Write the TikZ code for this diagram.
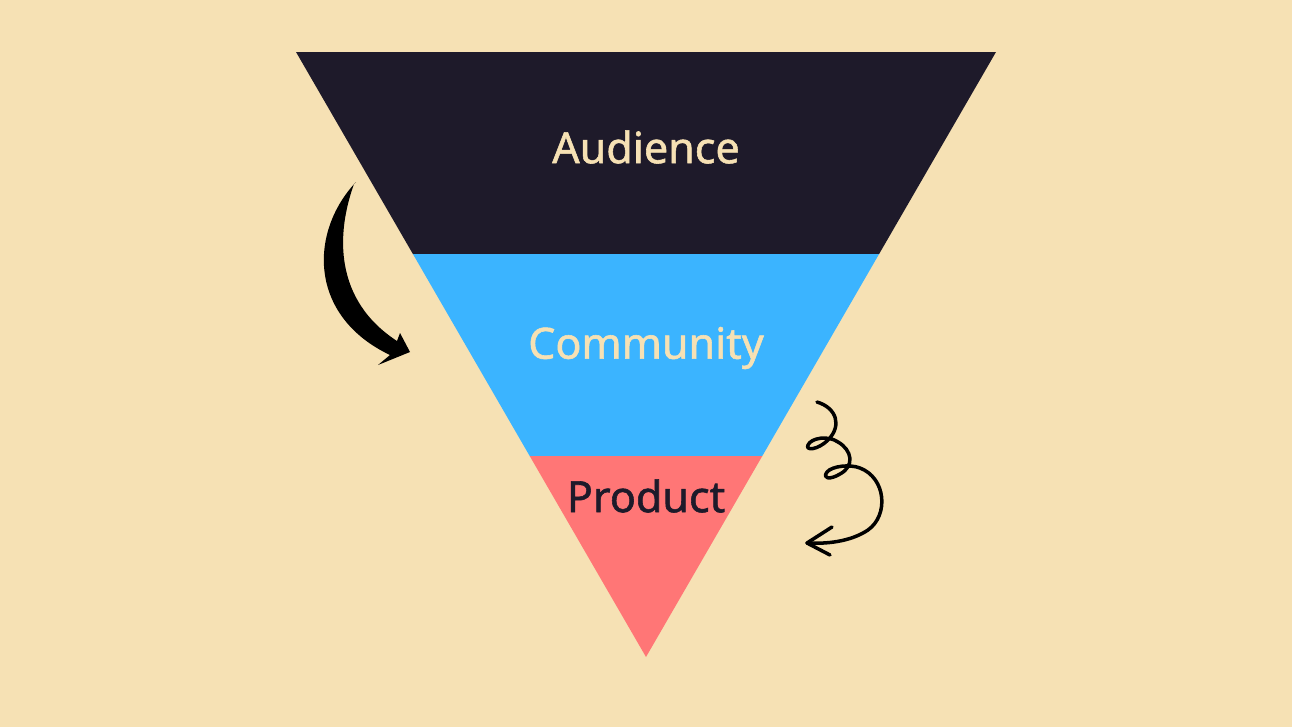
\documentclass[tikz,border=0pt]{standalone}
\usepackage{fontspec}
\setmainfont{Noto Sans}[FakeBold=1.3]
\definecolor{sand}{HTML}{F6E1B4}
\definecolor{ink}{HTML}{1E1A2A}
\definecolor{sky}{HTML}{3BB4FF}
\definecolor{coral}{HTML}{FF7676}
\tikzset{
	label text/.style={font=\fontsize{24.5}{29}\selectfont},
}
\begin{document}
\begin{tikzpicture}[x=0.02cm, y=-0.02cm]
		%%%%% START %%%%%
		
		\useasboundingbox (0, 0) rectangle (1292, 727);
		\fill[sand] (0, 0) rectangle (1292, 727);
		
		% funnel bands
		\fill[ink] (296, 52) -- (996, 52) -- (879.1, 254) -- (412.9, 254) -- cycle;
		\fill[sky] (412.9, 254) -- (879.1, 254) -- (762.3, 456) -- (529.7, 456) -- cycle;
		\fill[coral] (529.7, 456) -- (762.3, 456) -- (646, 657) -- cycle;
		
		\node[label text, text=sand] (audience) at (646, 147) {Audience};
		\node[label text, text=sand] (community) at (646, 348) {Community};
		\node[label text, text=ink] (product) at (646, 496) {Product};
		
		% thick arrow on the left
		\fill[black, line join=round] (356, 182) .. controls (309, 232) and (308, 316) .. (390, 355)
			-- (378, 365) -- (410, 352) -- (400, 333) -- (397, 341)
			.. controls (334, 300) and (336, 234) .. (354, 184) -- cycle;
		
		% curly arrow on the right
		\draw[line width=0.7mm, line cap=round, line join=round] (817, 402)
			.. controls (837, 408) and (842, 426) .. (828, 440)
			.. controls (818, 450) and (805, 451) .. (808, 445)
			.. controls (811, 438) and (828, 435) .. (838, 442)
			.. controls (852, 450) and (855, 466) .. (840, 474)
			.. controls (830, 480) and (822, 479) .. (827, 472)
			.. controls (832, 466) and (850, 464) .. (860, 468)
			.. controls (886, 478) and (889, 515) .. (868, 530)
			.. controls (850, 542) and (826, 544) .. (807, 543);
		\draw[line width=0.7mm, line cap=round, line join=round] (832, 527) -- (807, 543) -- (830, 555);
		
		%%%%% END %%%%%
	\end{tikzpicture}
\end{document}
